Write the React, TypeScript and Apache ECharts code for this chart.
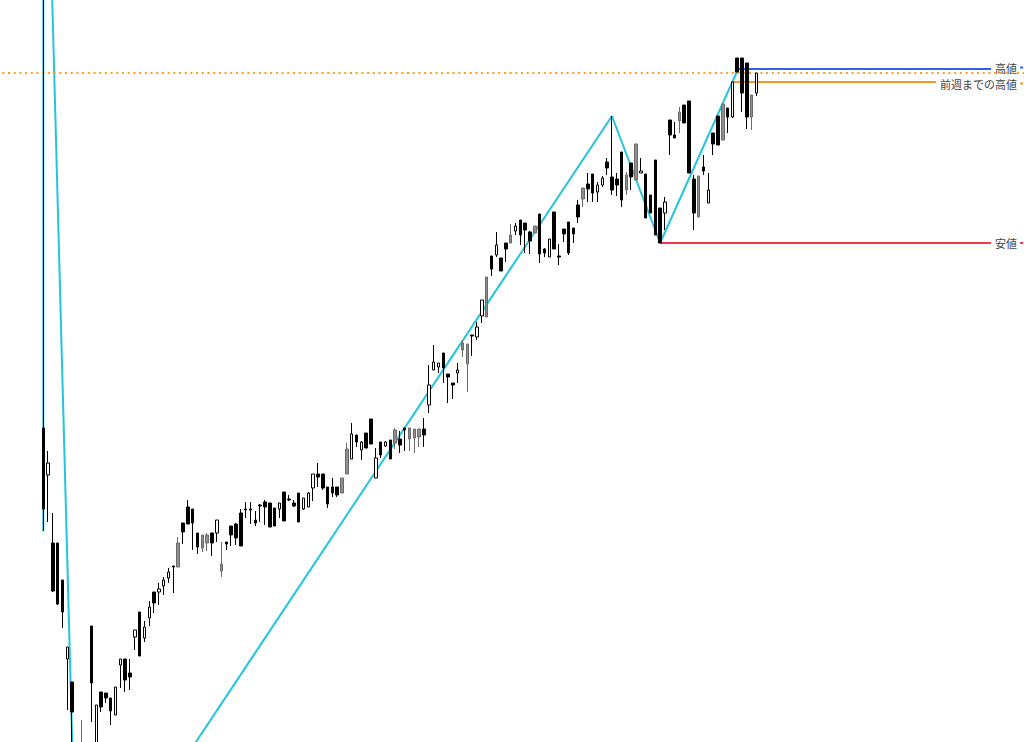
import React, { useEffect, useRef } from "react";
import * as echarts from "echarts";

// Price units: arbitrary points. Each bar: [open, high, low, close]
const ohlc: number[][] = [
  [314, 1076, 211, 233], [267, 291, 220, 279], [199, 229, 150, 151], [199, 199, 137, 138],
  [162, 162, 114, 130], [83, 95, 32, 95], [60, 60, -20, 30], [-20, -8, -179, -120],
  [-100, 22, -120, -30], [-60, -3, -70, -8], [116, 116, 20, 59], [-20, 37, -35, 37],
  [50, 50, 30, 35], [49, 49, 39, 44], [44, 44, 17, 31], [27, 55, 27, 55],
  [77, 83, 54, 83], [83, 83, 50, 62], [69, 83, 52, 65], [105, 112, 92, 112],
  [130, 130, 86, 86], [104, 121, 100, 115], [124, 141, 116, 135], [150, 150, 129, 139],
  [150, 159, 137, 153], [156, 165, 147, 162], [164, 174, 159, 170], [176, 176, 149, 175],
  [175, 205, 175, 199], [219, 219, 198, 210], [235, 242, 218, 218], [233, 233, 192, 219],
  [209, 209, 188, 195], [194, 207, 190, 207], [199, 209, 191, 207], [209, 209, 186, 199],
  [209, 222, 200, 222], [171, 200, 165, 178], [200, 200, 192, 198], [216, 216, 196, 207],
  [218, 219, 197, 204], [229, 233, 196, 196], [233, 240, 224, 232], [233, 240, 218, 232],
  [222, 231, 216, 219], [237, 238, 220, 236], [240, 242, 217, 235], [239, 239, 215, 215],
  [234, 234, 216, 216], [233, 239, 224, 239], [250, 250, 221, 221], [243, 247, 241, 242],
  [239, 242, 235, 236], [249, 249, 220, 220], [233, 244, 232, 244], [235, 250, 235, 249],
  [254, 268, 241, 268], [268, 279, 255, 265], [268, 268, 252, 254], [255, 255, 234, 238],
  [255, 264, 245, 249], [255, 255, 245, 247], [249, 264, 249, 264], [268, 299, 268, 293],
  [283, 319, 283, 308], [307, 307, 295, 300], [292, 301, 282, 300], [309, 309, 294, 294],
  [323, 323, 298, 298], [264, 294, 264, 284], [300, 300, 284, 287], [296, 301, 295, 300],
  [302, 302, 283, 283], [299, 314, 293, 312], [303, 311, 289, 297], [314, 314, 291, 312],
  [303, 314, 291, 314], [304, 313, 289, 313], [305, 313, 295, 313], [313, 324, 295, 307],
  [337, 377, 329, 357], [372, 397, 372, 380], [375, 379, 369, 379], [389, 389, 359, 374],
  [368, 368, 339, 365], [359, 359, 343, 357], [369, 379, 359, 372], [392, 402, 385, 399],
  [378, 398, 350, 398], [407, 407, 386, 406], [405, 420, 402, 415], [426, 442, 419, 442],
  [425, 465, 425, 465], [486, 486, 466, 473], [487, 510, 485, 497], [484, 484, 471, 471],
  [499, 499, 480, 493], [499, 518, 499, 507], [511, 519, 507, 516], [522, 522, 497, 507],
  [519, 519, 489, 512], [510, 511, 488, 501], [509, 516, 509, 516], [528, 528, 479, 488],
  [493, 494, 485, 489], [485, 503, 485, 503], [530, 530, 493, 493], [486, 498, 477, 485],
  [513, 513, 500, 508], [520, 520, 487, 489], [514, 514, 499, 508], [537, 542, 519, 525],
  [543, 554, 535, 554], [558, 569, 540, 553], [568, 568, 540, 549], [550, 560, 540, 557],
  [557, 566, 555, 564], [580, 584, 567, 574], [565, 626, 547, 552], [563, 569, 546, 557],
  [590, 590, 535, 542], [552, 570, 547, 567], [579, 579, 552, 565], [562, 598, 562, 598],
  [569, 584, 569, 571], [568, 568, 524, 524], [547, 547, 529, 529], [582, 582, 507, 507],
  [534, 534, 499, 499], [529, 545, 512, 540], [622, 622, 587, 607], [607, 620, 604, 604],
  [621, 635, 609, 630], [637, 637, 619, 619], [641, 641, 569, 569], [563, 567, 512, 529],
  [525, 566, 525, 566], [575, 587, 567, 571], [539, 569, 539, 552], [609, 609, 587, 598],
  [626, 626, 597, 597], [602, 638, 602, 638], [634, 634, 609, 625], [625, 660, 624, 660],
  [684, 684, 670, 670], [684, 684, 630, 649], [679, 679, 613, 625], [625, 647, 612, 647],
  [649, 669, 646, 669],
];

// bars that render as grey-filled bodies
const grayBars: number[] = [8, 28, 33, 34, 37, 62, 63, 73, 76, 77, 78, 87, 88, 92, 97, 102, 112, 121, 123, 132, 136, 141, 147];

// zigzag vertices: [bar index, price]
const zigzag: number[][] = [[0, 211], [0, 1076], [7, -179], [118, 626], [128, 499], [144, 671]];

const levelLabels = ["高値", "前週までの高値", "安値"];
const levelValues = [673, 660, 499];
const levelStartBars = [144, 143, 128];
const dottedLevel = 669;

const LEAD = 8; // empty slots before first bar
const SLOTS = 212; // total slots across the chart

export default function App() {
  const ref = useRef<HTMLDivElement>(null);
  useEffect(() => {
    const chart = echarts.init(ref.current!, undefined, { renderer: "svg" });
    const cats = Array.from({ length: SLOTS }, (_, k) => String(k - LEAD));
    const candleData = ohlc.map(([o, h, l, c], i) => {
      const item: any = { value: [i + LEAD, o, c, l, h] };
      if (grayBars.includes(i)) {
        item.itemStyle = { color: "#8f8f8f", color0: "#8f8f8f", borderColor: "#6a6a6a", borderColor0: "#6a6a6a" };
      }
      return item;
    });
    const levelColors = ["#2f62e6", "#f5961f", "#f0364a"];
    const labelNudge = [-1.5, 1.5, 0];
    const font = '"Noto Sans CJK JP", "Noto Sans", sans-serif';
    const levelSeries = levelLabels.map((name, k) => ({
      type: "line",
      name,
      silent: true,
      z: 3,
      showSymbol: true,
      symbol: "circle",
      symbolSize: 0,
      lineStyle: { color: levelColors[k], width: 2 },
      itemStyle: { color: levelColors[k] },
      data: [
        [levelStartBars[k] + LEAD, levelValues[k]],
        {
          value: [SLOTS - 1, levelValues[k]],
          label: {
            show: true,
            position: "left",
            distance: -1.5,
            offset: [0, labelNudge[k]],
            backgroundColor: "#fff",
            padding: [0, 0, 0, 4],
            formatter: `{t|${name}}{d| }`,
            rich: {
              t: { fontSize: 11, lineHeight: 11, fontFamily: font, color: "#444444", padding: [0, 3, 0, 0] },
              d: { width: 3, height: 2, lineHeight: 11, backgroundColor: levelColors[k] },
            },
          },
        },
      ],
    }));
    chart.setOption({
      animation: false,
      backgroundColor: "#fff",
      grid: { left: 2.3, top: 0, width: SLOTS * 4.824, height: 742 },
      xAxis: { type: "category", data: cats, show: false, boundaryGap: true },
      yAxis: { type: "value", min: 0, max: 742, show: false, splitLine: { show: false } },
      series: [
        {
          type: "line",
          silent: true,
          z: 2,
          showSymbol: false,
          lineStyle: { color: "#22c5dc", width: 2 },
          data: zigzag.map(([b, v]) => [b + LEAD, v]),
        },
        {
          type: "candlestick",
          silent: true,
          z: 5,
          barWidth: 3,
          dimensions: ["idx", "open", "close", "lowest", "highest"],
          encode: { x: "idx", y: ["open", "close", "lowest", "highest"] },
          itemStyle: { color: "#ffffff", color0: "#000000", borderColor: "#000000", borderColor0: "#000000", borderWidth: 1 },
          data: candleData,
        },
        ...levelSeries,
        {
          type: "line",
          silent: true,
          z: 10,
          data: [],
          markLine: {
            silent: true,
            symbol: ["none", "none"],
            label: { show: false },
            lineStyle: { color: "#ff9f1c", width: 2, type: [2, 3.7] },
            data: [{ yAxis: dottedLevel }],
          },
        },
      ],
    });
    return () => chart.dispose();
  }, []);
  return (
    <div
      ref={ref}
      style={{ position: "fixed", left: 0, top: 0, width: 1024, height: 742, background: "#fff" }}
    />
  );
}
